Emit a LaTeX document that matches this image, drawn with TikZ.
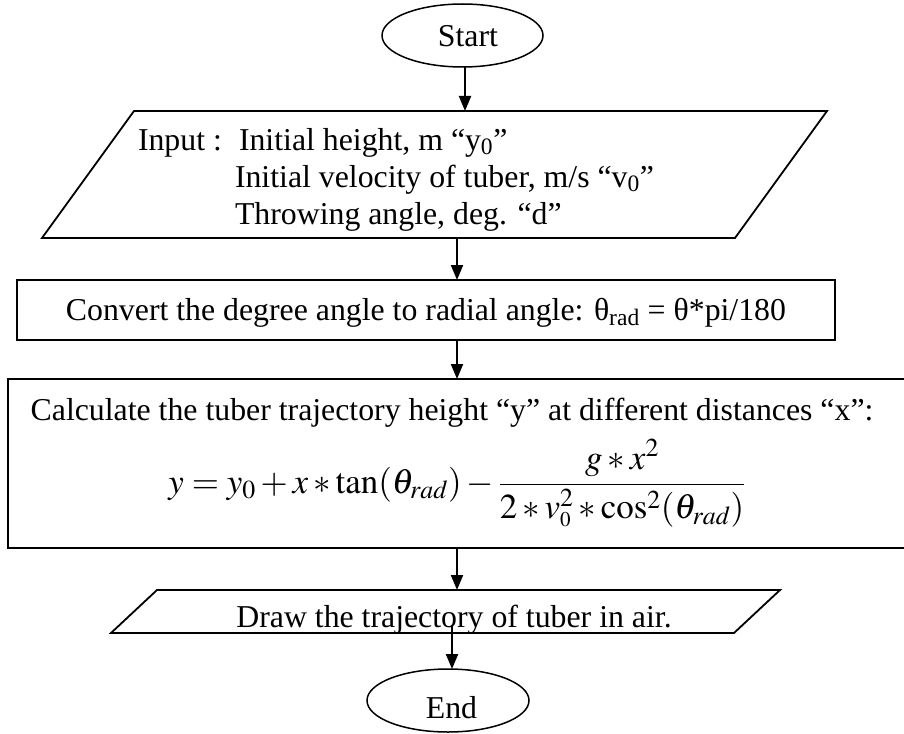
\documentclass[tikz,border=0pt]{standalone}
\usepackage{mathptmx}
\usepackage[no-math]{fontspec}
\setmainfont{Liberation Serif}
\usetikzlibrary{shapes.geometric,arrows.meta}
\begin{document}
\begin{tikzpicture}[x=1pt,y=-1pt,
  every node/.style={inner sep=0pt, outer sep=0pt, font=\fontsize{31.8}{37}\selectfont},
  term/.style={ellipse, draw, line width=1.5pt, minimum width=161pt, minimum height=63pt},
  io/.style={trapezium, draw, line width=1.8pt, trapezium stretches body=true},
  procbox/.style={rectangle, draw, line width=1.8pt},
  arr/.style={-{Triangle[length=15pt,width=12pt]}, line width=2pt}]
\useasboundingbox (0,0) rectangle (904,733);
\clip (0,0) rectangle (904,733);
\fill[white] (0,0) rectangle (904,733);

\node[term] (start) at (462.5,35.5)
  {\raisebox{-11.5pt}[5pt][5pt]{\makebox[10pt]{\hspace*{11pt}Start}}};

\node[io, trapezium left angle=54.08, trapezium right angle=125.92,
      minimum width=785pt] (input) at (434.5,174.5)
  {\raisebox{24.5pt}[63.5pt][63.5pt]{\makebox[10pt]{\makebox[593pt][l]{\begin{tabular}[t]{@{}l@{}}%
   \makebox[101pt][l]{Input :}Initial height, m “y\textsubscript{0}”\\
   \hspace*{97pt}Initial velocity of tuber, m/s “v\textsubscript{0}”\\
   \hspace*{97pt}Throwing angle, deg. “d”\end{tabular}}}}};

\node[procbox, minimum width=818pt, minimum height=60pt] (convert) at (426,310)
  {\raisebox{-10pt}[5pt][5pt]{\makebox[10pt]{Convert the degree angle to radial angle: θ\textsubscript{rad} = θ*pi/180}}};

\node[procbox, minimum width=904pt, minimum height=169pt] (calc) at (460,463.5)
  {\raisebox{43.5pt}[5pt][5pt]{\makebox[0pt]{Calculate the tuber trajectory height “y” at different distances “x”:\hspace*{16pt}}}%
   \raisebox{-29.5pt}[5pt][5pt]{\makebox[0pt]{\fontsize{35}{40}\selectfont$\displaystyle y = y_0 + x * \tan(\theta_{rad}) - \frac{g * x^2}{2 * v^{2}_{\scriptscriptstyle 0} * \cos^2(\theta_{rad})}$\hspace*{6pt}}}};

\node[io, trapezium left angle=43.07, trapezium right angle=136.93,
      minimum width=669pt] (out) at (445.5,611.5)
  {\raisebox{-15.5pt}[21.5pt][21.5pt]{\makebox[10pt]{\hspace*{17pt}Draw the trajectory of tuber in air.}}};

\node[term, minimum width=162pt] (end) at (448,700.5)
  {\raisebox{-17.5pt}[5pt][5pt]{\makebox[10pt]{\hspace*{7pt}End}}};

\coordinate (a1) at ([xshift=2.5pt]start.south);
\coordinate (a2) at ([xshift=22.5pt]input.south);
\coordinate (a3) at ([xshift=31pt]convert.south);
\coordinate (a4) at ([xshift=-3pt]calc.south);
\coordinate (a5) at ([xshift=6.5pt,yshift=8pt]out.south);
\draw[arr] (a1) -- (a1 |- input.north);
\draw[arr] (a2) -- (a2 |- convert.north);
\draw[arr] (a3) -- (a3 |- calc.north);
\draw[arr] (a4) -- (a4 |- out.north);
\draw[arr] (a5) -- (a5 |- end.north);
\end{tikzpicture}
\end{document}
